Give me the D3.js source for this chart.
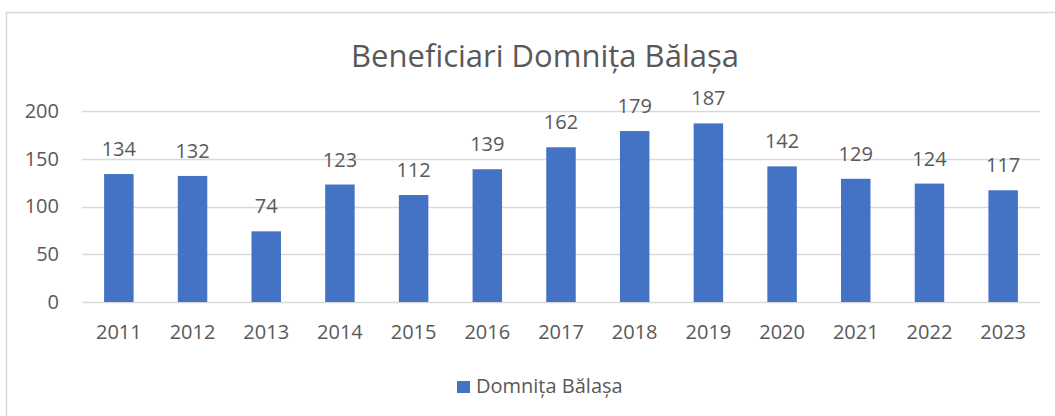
<!DOCTYPE html>
<html>
<head>
<meta charset="utf-8">
<script src="https://cdn.jsdelivr.net/npm/d3@7"></script>
<style>
  html, body { margin: 0; padding: 0; background: #fff; }
  svg { display: block; font-family: "Open Sans", sans-serif; }
</style>
</head>
<body>
<div id="chart"></div>
<script>
"use strict";

// chart data
const years = ["2011", "2012", "2013", "2014", "2015", "2016", "2017",
    "2018", "2019", "2020", "2021", "2022", "2023"];
const values = [134, 132, 74, 123, 112, 139, 162, 179, 187, 142, 129, 124, 117];
const yTicks = [0, 50, 100, 150, 200];
const title = "Beneficiari Domnița Bălașa";
const seriesName = "Domnița Bălașa";

const width = 1055, height = 416;
const textColor = "#595959";
const barColor = "#4472C4";
const gridColor = "#D9D9D9";

const svg = d3.select("#chart").append("svg")
    .attr("width", width)
    .attr("height", height);

// outer chart border (runs past the right and bottom edges)
svg.append("rect")
    .attr("x", 6.5)
    .attr("y", 12.5)
    .attr("width", 1200)
    .attr("height", 600)
    .attr("fill", "#fff")
    .attr("stroke", gridColor)
    .attr("stroke-width", 1.5);

// scales
const x = d3.scaleBand()
    .domain(years)
    .range([82, 1040])
    .paddingInner(0.6)
    .paddingOuter(0.3);

const y = d3.scaleLinear()
    .domain([0, 200])
    .range([302, 111]);

// title
svg.append("text")
    .attr("x", 545)
    .attr("y", 67)
    .attr("text-anchor", "middle")
    .attr("font-size", 31)
    .attr("fill", textColor)
    .text(title);

// gridlines
svg.append("g")
    .selectAll("line")
    .data(yTicks)
    .enter().append("line")
    .attr("x1", 82)
    .attr("x2", 1040)
    .attr("y1", d => Math.round(y(d)) + 0.5)
    .attr("y2", d => Math.round(y(d)) + 0.5)
    .attr("stroke", gridColor)
    .attr("stroke-width", 1.5);

// y axis labels
const yAxis = d3.axisLeft(y).tickValues(yTicks).tickSize(0).tickPadding(0);
const gy = svg.append("g")
    .attr("transform", "translate(59,0)")
    .call(yAxis);
gy.select(".domain").remove();
gy.selectAll("text")
    .attr("font-size", 20)
    .attr("font-family", "Open Sans, sans-serif")
    .attr("fill", textColor);

// x axis labels
const xAxis = d3.axisBottom(x).tickSize(0).tickPadding(0);
const gx = svg.append("g")
    .attr("transform", "translate(0,325)")
    .call(xAxis);
gx.select(".domain").remove();
gx.selectAll("text")
    .attr("font-size", 20)
    .attr("font-family", "Open Sans, sans-serif")
    .attr("fill", textColor);

// bars
svg.append("g")
    .selectAll("rect")
    .data(values)
    .enter().append("rect")
    .attr("x", (d, i) => x(years[i]))
    .attr("y", d => y(d))
    .attr("width", x.bandwidth())
    .attr("height", d => y(0) - y(d))
    .attr("fill", barColor);

// value labels
svg.append("g")
    .selectAll("text")
    .data(values)
    .enter().append("text")
    .attr("x", (d, i) => x(years[i]) + x.bandwidth() / 2)
    .attr("y", d => y(d) - 18)
    .attr("text-anchor", "middle")
    .attr("font-size", 20)
    .attr("fill", textColor)
    .text(d => d);

// legend
const legend = svg.append("g").attr("transform", "translate(457,381)");
legend.append("rect")
    .attr("width", 13)
    .attr("height", 12)
    .attr("fill", barColor);
legend.append("text")
    .attr("x", 19)
    .attr("y", 12)
    .attr("font-size", 20)
    .attr("fill", textColor)
    .text(seriesName);
</script>
</body>
</html>
